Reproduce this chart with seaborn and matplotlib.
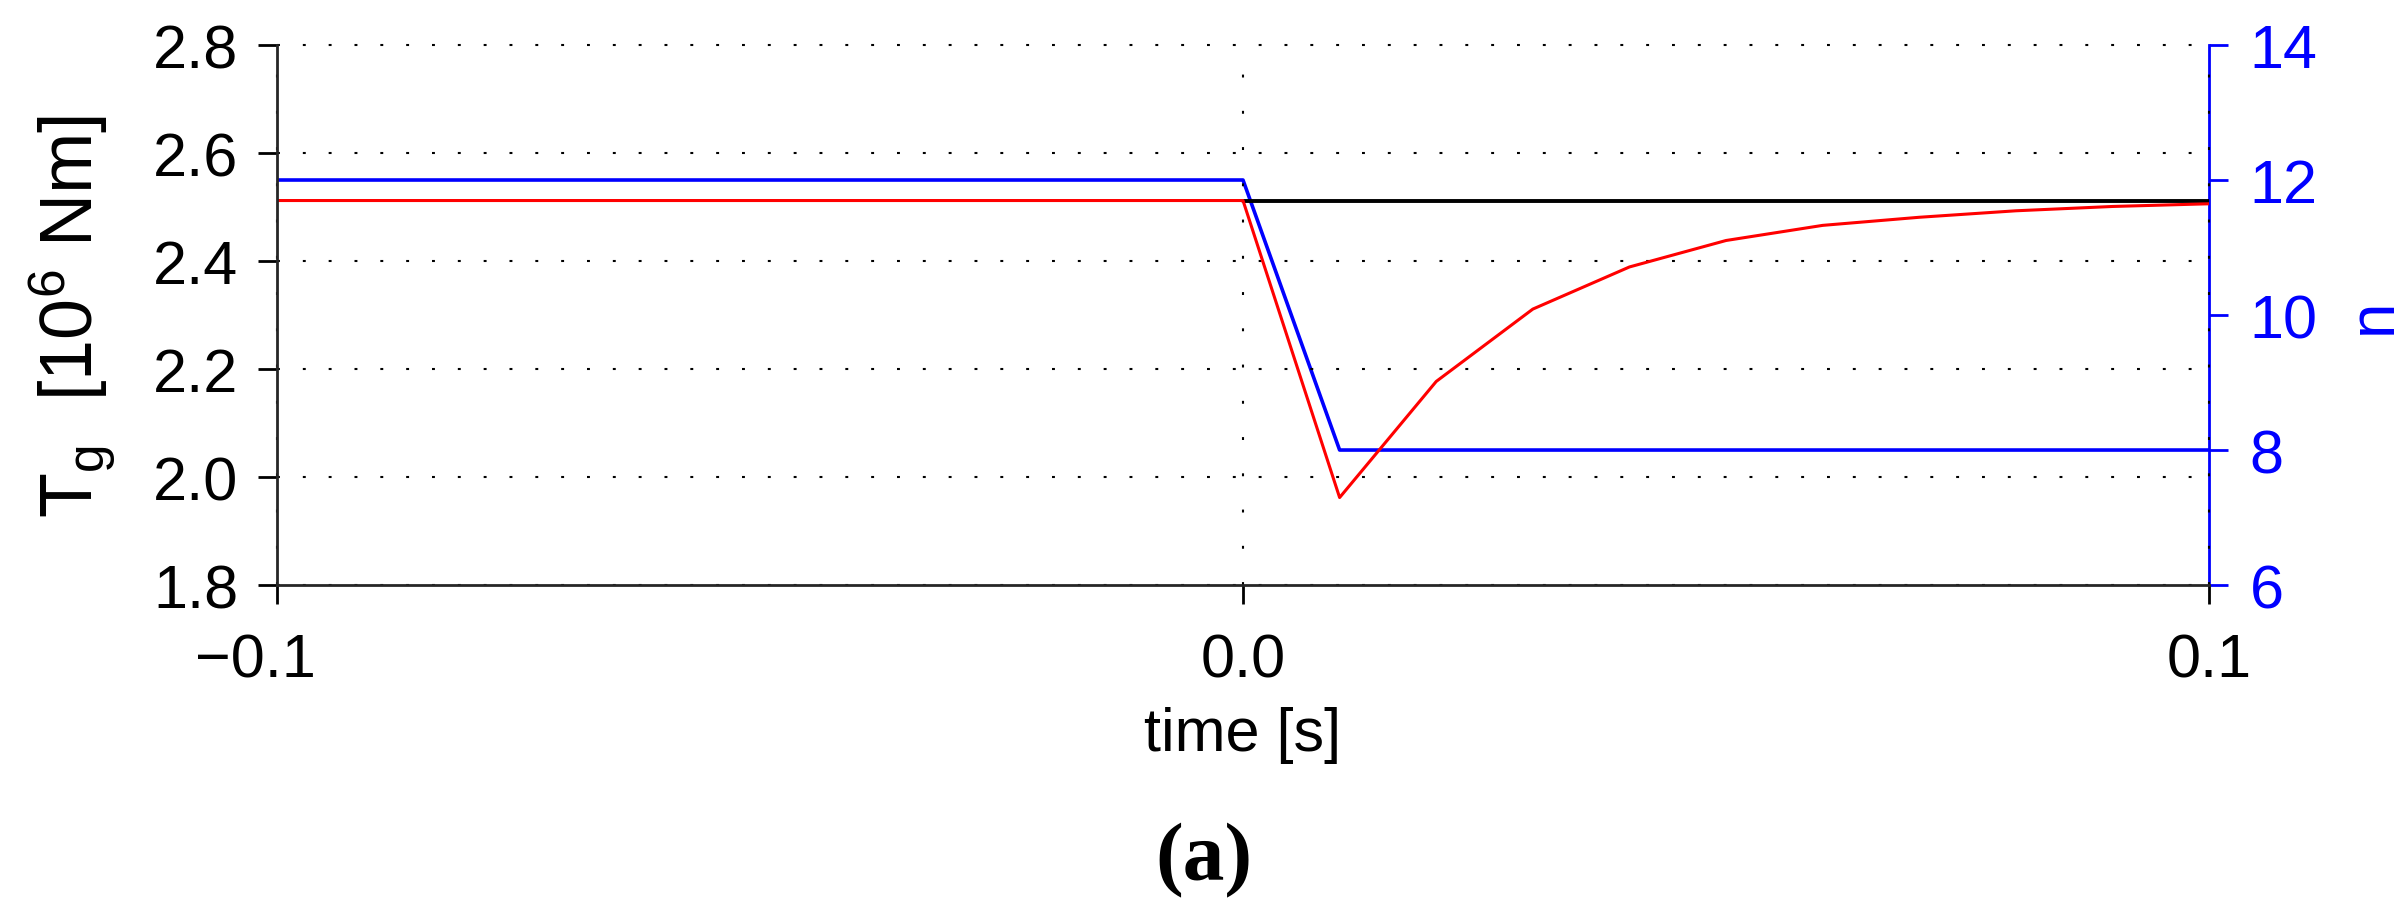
import matplotlib
matplotlib.use('Agg')
import matplotlib.pyplot as plt
import seaborn as sns

# reference torque (black), only after the step
t_ref = [0.0, 0.1]
tg_ref = [2.512, 2.512]

# generator torque T_g [10^6 Nm] (red)
t_tg = [-0.1, 0.0, 0.01, 0.02, 0.03, 0.04, 0.05, 0.06, 0.07, 0.08, 0.09, 0.1]
tg = [2.512, 2.512, 1.962, 2.177, 2.311, 2.389, 2.438, 2.466, 2.481, 2.493, 2.501, 2.506]

# n on the right axis (blue)
t_n = [-0.1, 0.0, 0.01, 0.1]
n = [12, 12, 8, 8]

x_ticks = [-0.1, 0.0, 0.1]
# trailing spaces push the minus of -0.1 left of the tick, as in the original
x_tick_labels = ['\u22120.1\u2002\u2009', '0.0', '0.1']
tg_ticks = [1.8, 2.0, 2.2, 2.4, 2.6, 2.8]
tg_tick_labels = ['1.8', '2.0', '2.2', '2.4', '2.6', '2.8']
n_ticks = [6, 8, 10, 12, 14]

sns.set_style('ticks')
plt.rcParams['font.family'] = ['Liberation Sans', 'DejaVu Sans']
plt.rcParams['mathtext.default'] = 'regular'
plt.rcParams['text.color'] = 'black'
plt.rcParams['axes.labelcolor'] = 'black'

fig = plt.figure(figsize=(24.08, 9.2), dpi=100)
ax1 = fig.add_axes([0.115, 0.363, 0.8024, 0.587])
ax2 = ax1.twinx()
# red/black lines and the dotted grid sit above the blue line
ax1.set_zorder(ax2.get_zorder() + 1)
ax1.patch.set_visible(False)

sns.lineplot(x=t_n, y=n, ax=ax2, color='blue', lw=2.6)
sns.lineplot(x=t_ref, y=tg_ref, ax=ax1, color='black', lw=2.8)
sns.lineplot(x=t_tg, y=tg, ax=ax1, color='red', lw=2.2)

ax1.set_xlim(-0.1, 0.1)
ax1.set_ylim(1.8, 2.8)
ax2.set_ylim(6, 14)

ax1.set_xticks(x_ticks)
ax1.set_xticklabels(x_tick_labels)
ax1.set_yticks(tg_ticks)
ax1.set_yticklabels(tg_tick_labels)
ax2.set_yticks(n_ticks)

# dotted grid
ax1.yaxis.grid(True, color='black', lw=1.5, linestyle=(0, (1.4, 11)))
ax1.xaxis.grid(True, color='black', lw=1.5, linestyle=(0, (1.4, 16)))
for gl in ax1.get_ygridlines() + ax1.get_xgridlines():
    gl.set_clip_on(False)

# spines
ax1.spines['top'].set_visible(False)
ax1.spines['right'].set_visible(False)
ax1.spines['left'].set_linewidth(2)
ax1.spines['bottom'].set_linewidth(2)
for s in ['top', 'left', 'bottom']:
    ax2.spines[s].set_visible(False)
ax2.spines['right'].set_color('blue')
ax2.spines['right'].set_linewidth(2)

ax1.tick_params(axis='y', direction='out', length=14, width=2, labelsize=44,
                pad=14, colors='black')
ax1.tick_params(axis='x', direction='out', length=14, width=2, labelsize=44,
                pad=20, colors='black')
ax2.tick_params(axis='y', direction='out', length=14, width=2, labelsize=44,
                pad=15, colors='blue')

ax1.set_xlabel('time [s]', fontsize=44, labelpad=12)
ax1.set_ylabel(r'T$_{g}$  [10$^{6}$ Nm]', fontsize=53, labelpad=24)
ax2.set_ylabel('n', fontsize=46, color='blue', labelpad=19)

fig.text(0.5, 0.064, '(a)', ha='center', va='center', fontsize=60,
         fontweight='bold', family=['Liberation Serif', 'DejaVu Serif'])

plt.savefig('out.png', dpi=100)
